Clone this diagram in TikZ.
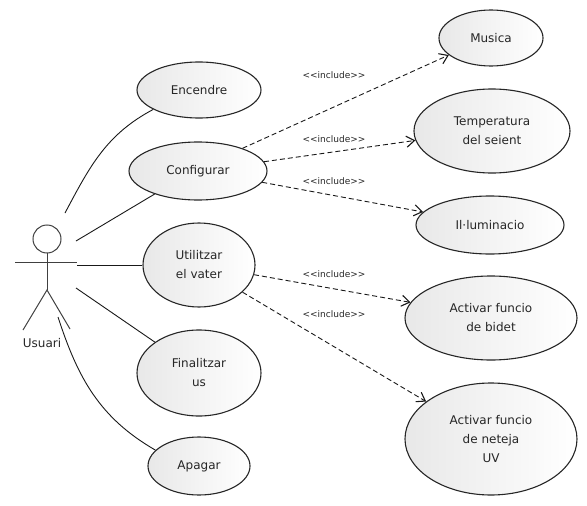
\documentclass[tikz,border=0pt]{standalone}
\usepackage{fontspec}
\setmainfont{DejaVu Sans}
\usepackage{tikz}
\usetikzlibrary{shapes.geometric,arrows.meta}

\begin{document}
\begin{tikzpicture}[x=1pt, y=-1pt,
		usecase/.style={ellipse, draw=black!85, line width=1.1pt, left color=black!9, right color=white, inner sep=0pt, align=center, text=black!85, font=\fontsize{12}{19}\selectfont},
		assoc/.style={draw=black!90, line width=0.9pt},
		incl/.style={draw=black!90, line width=0.9pt, dash pattern=on 5pt off 3pt, -{Straight Barb[length=8pt, width=11pt, line width=1.1pt]}},
		lbl/.style={font=\fontsize{9}{10}\selectfont, text=black!85, inner sep=0pt},
		stick/.style={draw=black!75, line width=1pt}]
				\useasboundingbox (0,0) rectangle (587,506);
				% casos d'us de l'usuari
				\node[usecase, minimum width=124pt, minimum height=56pt] (enc) at (199,90) {Encendre};
				\node[usecase, minimum width=138pt, minimum height=58pt] (conf) at (198,171) {Configurar};
				\node[usecase, minimum width=112pt, minimum height=84pt] (util) at (199,265) {Utilitzar\\el vater};
				\node[usecase, minimum width=124pt, minimum height=86pt] (fin) at (199,373) {Finalitzar\\us};
				\node[usecase, minimum width=102pt, minimum height=58pt] (apa) at (199,466) {Apagar};
				% casos inclosos
				\node[usecase, minimum width=104pt, minimum height=56pt] (mus) at (491,38) {Musica};
				\node[usecase, minimum width=156pt, minimum height=84pt] (temp) at (492,131) {Temperatura\\del seient};
				\node[usecase, minimum width=148pt, minimum height=58pt] (ilum) at (490,225) {Il·luminacio};
				\node[usecase, minimum width=172pt, minimum height=84pt] (bidet) at (491,318) {Activar funcio\\de bidet};
				\node[usecase, minimum width=172pt, minimum height=112pt] (uv) at (491,439) {Activar funcio\\de neteja\\UV};
				% actor
				\draw[stick] (47,239) circle (14);
				\draw[stick] (15,262) -- (77,262);
				\draw[stick] (47,253) -- (47,290);
				\draw[stick] (23,330) -- (47,290) -- (70,329);
				\node[font=\fontsize{12}{14}\selectfont, text=black!85] (usr) at (42,343) {Usuari};
				\coordinate (u1) at (65,213);
				\coordinate (u2) at (76,241);
				\coordinate (u3) at (77,265);
				\coordinate (u4) at (76,288);
				\coordinate (u5) at (58,317);
				\draw[assoc] (u1) to[out=62, in=208] (enc.203);
				\draw[assoc] (u2) -- (conf.208);
				\draw[assoc] (u3) -- (util.west);
				\draw[assoc] (u4) -- (fin.145);
				\draw[assoc] (u5) to[out=-72, in=150] (apa.160);
				% includes
				\draw[incl] (conf.27) -- (mus.202);
				\draw[incl] (conf.8) -- (temp.187);
				\draw[incl] (conf.-10) -- (ilum.169);
				\draw[incl] (util.-10) -- (bidet.169);
				\draw[incl] (util.-32) -- (uv.150);
				\node[lbl] (imus) at (334,75) {{<}{<}include{>}{>}};
				\node[lbl] (itemp) at (334,139) {{<}{<}include{>}{>}};
				\node[lbl] (iilum) at (334,181) {{<}{<}include{>}{>}};
				\node[lbl] (ibidet) at (334,274) {{<}{<}include{>}{>}};
				\node[lbl] (iuv) at (334,314) {{<}{<}include{>}{>}};
			\end{tikzpicture}
\end{document}
